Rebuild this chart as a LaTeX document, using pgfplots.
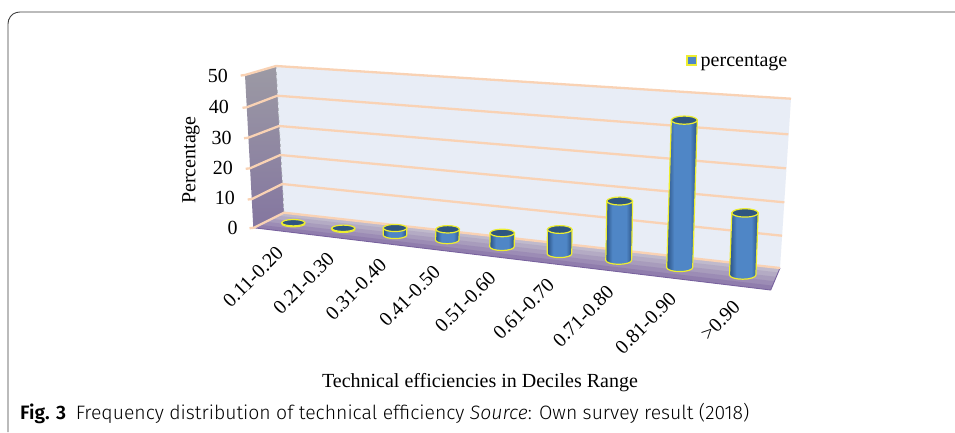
\documentclass[border=0pt]{standalone}
\usepackage{fontspec}
\setmainfont{Liberation Serif}
\newfontfamily\capfont{Fira Sans Light}[BoldFont={Fira Sans SemiBold},ItalicFont={Fira Sans Light Italic}]
\usepackage{pgfplots}
\pgfplotsset{compat=1.18}
\definecolor{grid}{HTML}{F9D2B4}
\definecolor{back}{HTML}{E8EDF6}
\definecolor{barE}{HTML}{2A5183}
\definecolor{barM}{HTML}{4F86C6}
\definecolor{topc}{HTML}{2F5680}
\definecolor{yel}{HTML}{EDEE30}
\definecolor{floorA}{RGB}{192,186,204}
\definecolor{floorB}{RGB}{132,110,165}
\pgfdeclarehorizontalshading{barsh}{100bp}{color(0bp)=(barE); color(25bp)=(barE); color(37bp)=(barM); color(63bp)=(barM); color(75bp)=(barE); color(100bp)=(barE)}
% value (percent), base x, base y, top x, px per percent, x radius, y radius
\newcommand\cyl[7]{%
  \pgfmathsetmacro\yt{#3-#1*#5}%
  \gdef\acc{}%
  \pgfmathsetmacro\p{#4-#6}\xdef\acc{(\p,\yt)}%
  \foreach \a in {180,157.5,135,112.5,90,67.5,45,22.5,0}{%
    \pgfmathsetmacro\px{#2+#6*cos(\a)}\pgfmathsetmacro\py{#3+#7*sin(\a)}%
    \xdef\acc{\acc (\px,\py)}}%
  \pgfmathsetmacro\p{#4+#6}\xdef\acc{\acc (\p,\yt)}%
  \edef\doit{\noexpand\addplot[draw=yel,line width=1.2pt,shade,shading=barsh] coordinates {\acc} -- cycle;}\doit
  \gdef\acc{}%
  \foreach \a in {0,22.5,...,337.5}{%
    \pgfmathsetmacro\px{#4+#6*cos(\a)}\pgfmathsetmacro\py{\yt+#7*sin(\a)}%
    \xdef\acc{\acc (\px,\py)}}%
  \edef\doit{\noexpand\addplot[draw=yel,line width=1.2pt,fill=topc] coordinates {\acc} -- cycle;}\doit
}
\newcommand\gridl[8]{\addplot[draw=grid,line width=2.3pt] coordinates {(#1,#2)(#3,#4)(#5,#6)(#7,#8)};}
\begin{document}
\begin{tikzpicture}
\begin{axis}[
  scale only axis, width=955pt, height=432pt,
  xmin=0, xmax=955, ymin=0, ymax=432, y dir=reverse,
  hide axis, no markers, clip=true]
\addplot[fill=white,draw=none] coordinates {(0,0)(955,0)(955,432)(0,432)} -- cycle;
% frame
\addplot[draw=black!75,line width=0.9pt] coordinates {(8,432)(8,24)(8.6,20)(10.5,16.5)(13,14)(16.5,12.5)(20,12)(955,12)};
% walls and floor
\addplot[draw=none,shade,top color={rgb,255:red,156;green,154;blue,164},bottom color={rgb,255:red,132;green,118;blue,160}] coordinates {(245,75)(276,66)(284,212.7)(253.3,227.7)} -- cycle;
\addplot[draw=none,fill=back] coordinates {(276,66)(791,98.7)(780,268)(284,212.7)} -- cycle;
\addplot[draw=none,fill=floorA!100!floorB] coordinates {(284,212.7)(780,268)(778.1,272.9)(277.9,216.2)} -- cycle;
\addplot[draw=none,fill=floorA!80!floorB] coordinates {(277.9,215.7)(778.1,272.4)(776.3,277.3)(271.7,219.2)} -- cycle;
\addplot[draw=none,fill=floorA!60!floorB] coordinates {(271.7,218.7)(776.3,276.8)(774.4,281.7)(265.6,222.2)} -- cycle;
\addplot[draw=none,fill=floorA!40!floorB] coordinates {(265.6,221.7)(774.4,281.2)(772.6,286.1)(259.4,225.2)} -- cycle;
\addplot[draw=none,fill=floorA!20!floorB] coordinates {(259.4,224.7)(772.6,285.6)(770.7,290)(253.3,227.7)} -- cycle;
\addplot[draw={rgb,255:red,120;green,98;blue,158},line width=0.9pt] coordinates {(253.3,227.7)(770.7,290)(780,268)};
\addplot[draw=black!30!back,dashed,line width=0.6pt] coordinates {(276,66)(284,212.7)};
% gridlines, value 50 down to 0
\gridl{240.7}{75.5}{245}{75}{276}{66}{791}{98.7}
\gridl{242.5}{107.8}{246.7}{107.3}{277.3}{95.7}{788.3}{134.3}
\gridl{244}{138.2}{248.3}{137.7}{279}{126}{786}{168.3}
\gridl{245.7}{168.8}{250}{168.3}{280.3}{155}{784.3}{202.3}
\gridl{247.7}{199.5}{252}{199}{282.3}{184}{782}{235.7}
\gridl{249.5}{228.2}{254}{227.7}{284}{212.7}{780}{268}
% bars: value, xb, yb, xt, scale, rx, ry
\cyl{0.3}{293.3}{223.6}{293.3}{3.0}{11.5}{3.2}
\cyl{0.3}{343.3}{229.2}{343.3}{3.05}{11.5}{3.2}
\cyl{2.3}{395}{235}{395}{3.05}{11.8}{3.6}
\cyl{3.4}{447.2}{240}{447.7}{3.15}{11.7}{3.7}
\cyl{4.3}{502}{246.7}{502.3}{3.2}{12.2}{3.8}
\cyl{7.4}{559.5}{253.7}{559.7}{3.27}{12.3}{3.9}
\cyl{17.8}{618.7}{260.3}{619.7}{3.33}{12.9}{4}
\cyl{43.6}{679.7}{267.5}{684.3}{3.38}{13}{4.1}
\cyl{18}{742.7}{275}{745}{3.45}{13.2}{4.2}
% legend key
\addplot[draw=yel,line width=1.1pt,fill=barM] coordinates {(687,56)(696.5,56)(696.5,65)(687,65)} -- cycle;
\node[anchor=base west,inner sep=0,font=\fontsize{20}{21}\selectfont] at (axis cs:700.5,66.5) {percentage};
\foreach \t/\x/\y in {50/228/76,40/229/107,30/231.7/138,20/233/168,10/235/198,0/237.7/227.7}{%
  \edef\temp{\noexpand\node[anchor=east,inner sep=0,font=\noexpand\fontsize{20}{21}\noexpand\selectfont] at (axis cs:\x,\y) {\t};}\temp}
\node[rotate=90,inner sep=0,font=\fontsize{20}{21}\selectfont] at (axis cs:191,160) {Percentage};
\foreach \t/\x/\y in {0.11-0.20/253/277,0.21-0.30/303.7/283.3,0.31-0.40/356/289.3,0.41-0.50/409.7/296,0.51-0.60/465.3/302,0.61-0.70/523.7/309,0.71-0.80/583.3/316.3,0.81-0.90/645.7/323.3,>0.90/720.3/320.3}{%
  \edef\temp{\noexpand\node[rotate=45,inner sep=0,font=\noexpand\fontsize{20}{21}\noexpand\selectfont] at (axis cs:\x,\y) {\t};}\temp}
\node[inner sep=0,font=\fontsize{20}{21}\selectfont] at (axis cs:480,383) {Technical efficiencies in Deciles Range};
\node[anchor=west,inner sep=0,font=\capfont\fontsize{19.4}{21}\selectfont] at (axis cs:20,414) {\textbf{Fig. 3}\hspace{0.5em}Frequency distribution of technical efficiency \textit{Source}: Own survey result (2018)};
\end{axis}
\end{tikzpicture}
\end{document}
